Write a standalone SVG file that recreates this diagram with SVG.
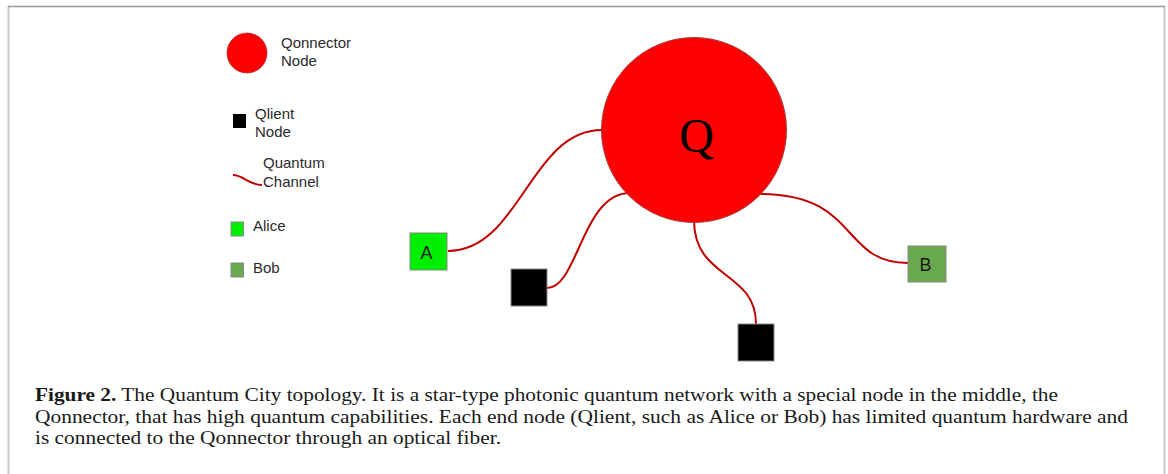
<svg xmlns="http://www.w3.org/2000/svg" width="1168" height="474" viewBox="0 0 1168 474">
<style>
.lbl{font-family:"Liberation Sans",Arial,sans-serif;font-size:15px;fill:#2a2a2a}
.wire{fill:none;stroke:#c00000;stroke-width:2}
.cap{font-family:"Liberation Serif","Times New Roman",serif;font-size:19px;fill:#1a1a1a}
.box{stroke:#888;stroke-width:1}
.blbl{font-family:"Liberation Sans",Arial,sans-serif;font-size:18px;fill:#1a1a1a;text-anchor:middle}
</style>
<rect x="0" y="0" width="1168" height="474" fill="#fff"/>
<g id="frame">
<line x1="8.5" y1="6" x2="8.5" y2="474" stroke="#c8c8c8" stroke-width="2"/>
<line x1="1164.5" y1="6" x2="1164.5" y2="474" stroke="#c8c8c8" stroke-width="2"/>
<line x1="8" y1="6.5" x2="1165" y2="6.5" stroke="#999" stroke-width="1.5"/>
</g>
<g id="legend">
<circle cx="247" cy="53" r="20" fill="#f00" stroke="#b03030" stroke-width="0.8"/>
<text class="lbl" x="281" y="47.5">Qonnector</text>
<text class="lbl" x="281" y="66">Node</text>
<rect x="233" y="114" width="13" height="14" fill="#000"/>
<text class="lbl" x="255" y="118.5">Qlient</text>
<text class="lbl" x="255" y="137">Node</text>
<path class="wire" d="M233,175 C243,175 249,185 262,185"/>
<text class="lbl" x="263" y="168">Quantum</text>
<text class="lbl" x="263" y="186.5">Channel</text>
<rect x="231" y="222" width="12.5" height="14" fill="#00ee00" class="box"/>
<text class="lbl" x="253" y="231">Alice</text>
<rect x="231" y="263" width="12.5" height="14" fill="#6aa84f" class="box"/>
<text class="lbl" x="253" y="273">Bob</text>
</g>
<g id="connectors">
<path class="wire" d="M448,251 C520,251 530,130 602,130"/>
<path class="wire" d="M547,288 C578,288 582,193 630,193"/>
<path class="wire" d="M694,220 C694,280 756,270 756,324"/>
<path class="wire" d="M760,194 C860,194 840,263 908,263"/>
</g>
<g id="qonnector">
<circle cx="694" cy="130" r="92.5" fill="#f00" stroke="#a04040" stroke-width="1"/>
<text x="696.5" y="152" text-anchor="middle" font-family="'Liberation Serif','Times New Roman',serif" font-size="48" fill="#000">Q</text>
</g>
<g id="alice">
<rect x="410" y="233" width="37" height="37" fill="#00ee00" class="box"/>
<text class="blbl" x="426.5" y="258.5">A</text>
</g>
<g id="qlient1">
<rect x="511" y="269" width="36" height="37" fill="#000" class="box"/>
</g>
<g id="qlient2">
<rect x="738" y="324" width="36" height="37" fill="#000" class="box"/>
</g>
<g id="bob">
<rect x="908" y="246" width="38" height="36" fill="#6aa84f" class="box"/>
<text class="blbl" x="925.5" y="270.5">B</text>
</g>
<g id="caption">
<text class="cap" x="35" y="401" textLength="1023" lengthAdjust="spacingAndGlyphs"><tspan font-weight="bold">Figure 2.</tspan> The Quantum City topology. It is a star-type photonic quantum network with a special node in the middle, the</text>
<text class="cap" x="35" y="422.5" textLength="1093" lengthAdjust="spacingAndGlyphs">Qonnector, that has high quantum capabilities. Each end node (Qlient, such as Alice or Bob) has limited quantum hardware and</text>
<text class="cap" x="35" y="444" textLength="466" lengthAdjust="spacingAndGlyphs">is connected to the Qonnector through an optical fiber.</text>
</g>
</svg>
